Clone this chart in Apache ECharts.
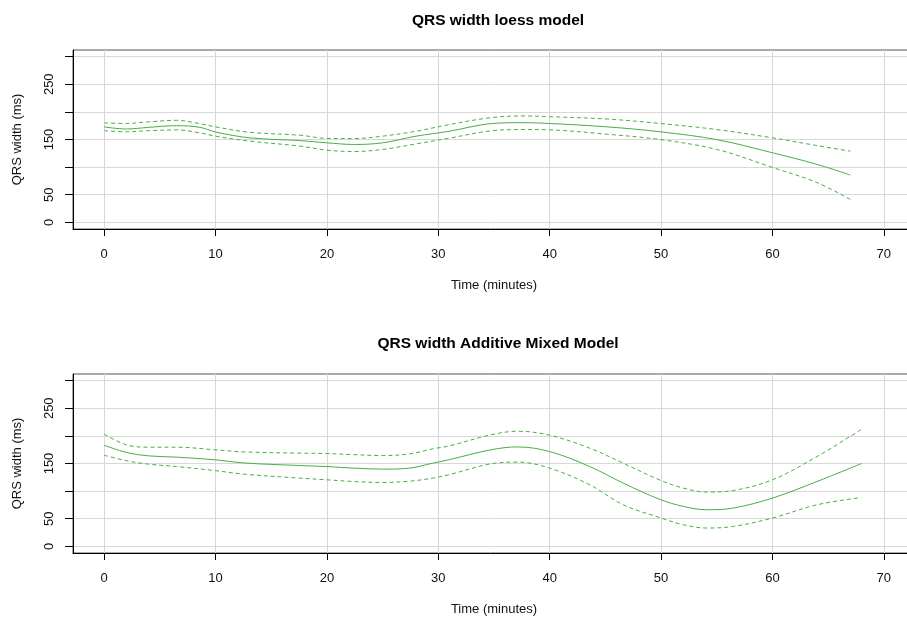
<!DOCTYPE html>
<html>
<head>
<meta charset="utf-8">
<script src="https://cdn.jsdelivr.net/npm/echarts@6/dist/echarts.min.js"></script>
<style>html,body{margin:0;padding:0;background:#fff}#c{width:907px;height:617px}</style>
</head>
<body>
<div id="c"></div>
<script>
// ---- data ----
const titles = ["QRS width loess model", "QRS width Additive Mixed Model"];
const xTicks = [0, 10, 20, 30, 40, 50, 60, 70];
const yTicks = [0, 50, 100, 150, 200, 250, 300];
const yLabels = [0, 50, 150, 250];

const loessTime  = [0, 2, 4, 6.5, 8.6, 10, 13.1, 17.6, 20, 22.4, 25, 28, 31, 34.7, 37.6, 40, 45.2, 49.9, 55, 60, 64, 67];
const loessFit   = [172.8, 169, 172, 175, 172, 163.5, 153, 148, 144, 141, 144, 156, 165, 178.7, 180.5, 179, 172.8, 164, 149.8, 126, 105, 85.7];
const loessUpper = [180, 179, 182, 184.7, 178.7, 172.8, 163, 157.7, 152, 151.7, 156, 165, 177, 189.5, 192.6, 191.3, 187, 179, 168, 153, 139, 128.9];
const loessLower = [166, 164, 166, 167.4, 162, 156, 147, 138, 130.7, 128.3, 132, 142, 152.5, 165.6, 168, 167.4, 159.5, 150, 132, 99.5, 72, 41.4];

const ammTime  = [0, 2, 4, 6.5, 10, 12.5, 17.6, 20, 22.4, 25, 27.4, 29.5, 31, 34.7, 37.1, 40, 43.6, 46.6, 49.9, 52, 54.1, 56.5, 60, 64, 68];
const ammFit   = [183, 170, 163.8, 161.5, 156.6, 151, 146.3, 144.5, 141.6, 139.8, 141.6, 150.6, 157, 174.7, 180, 171.6, 144.5, 114.5, 85, 72.3, 66.3, 69.4, 87.4, 117.4, 150];
const ammUpper = [203, 183.7, 179.5, 179.5, 174.7, 171, 168.7, 168, 166, 164.4, 167.4, 176.5, 182, 201.8, 208.4, 201.2, 177.7, 150.6, 120, 105.5, 98.3, 101.2, 120.5, 162.6, 212];
const ammLower = [165, 155, 148.8, 144.5, 137, 130.8, 123.5, 120.5, 117.4, 115.6, 118, 123.5, 130, 149.4, 152.5, 141.6, 111.5, 75.3, 52, 39.2, 33.2, 36.1, 51.3, 75.3, 88.5];

// ---- chart ----
const GREEN = '#45b045';
const FONT = '"Liberation Sans", Arial, Helvetica, sans-serif';
const zip = (xs, ys) => xs.map((x, i) => [x, ys[i]]);

const gridTops = [50, 374];
const grids = gridTops.map(t => ({
  left: 73, top: t, width: 842, height: 179,
  outerBoundsMode: 'none', containLabel: false,
  show: true, borderColor: '#555', borderWidth: 1, backgroundColor: 'transparent'
}));

const xAxes = [0, 1].map(i => ({
  type: 'value', gridIndex: i, min: -2.8, max: 72.8, position: 'bottom',
  name: 'Time (minutes)', nameLocation: 'middle', nameGap: 50,
  nameTextStyle: {fontFamily: FONT, fontSize: 13, color: '#111'},
  axisLine: {show: true, onZero: false, lineStyle: {color: '#000', width: 1}},
  axisTick: {show: true, length: 7, customValues: xTicks, lineStyle: {color: '#000'}},
  axisLabel: {customValues: xTicks, margin: 19, fontFamily: FONT, fontSize: 13, color: '#111'},
  splitLine: {show: true, lineStyle: {color: '#d8d8d8', width: 1}}
}));

const yAxes = [0, 1].map(i => ({
  type: 'value', gridIndex: i, min: -12, max: 312, position: 'left',
  name: 'QRS width (ms)', nameLocation: 'middle', nameGap: 49,
  nameTextStyle: {fontFamily: FONT, fontSize: 13, color: '#111'},
  axisLine: {show: true, onZero: false, lineStyle: {color: '#000', width: 1}},
  axisTick: {show: true, length: 8, customValues: yTicks, lineStyle: {color: '#000'}},
  axisLabel: {customValues: yLabels, rotate: 90, margin: 17, fontFamily: FONT, fontSize: 13, color: '#111'},
  splitLine: {show: true, lineStyle: {color: '#d8d8d8', width: 1}}
}));

function line(i, xs, ys, dashed) {
  return {
    type: 'line', xAxisIndex: i, yAxisIndex: i, data: zip(xs, ys),
    showSymbol: false, symbol: 'none', smooth: 0.35, silent: true, animation: false,
    lineStyle: {color: GREEN, width: 1, type: dashed ? [4, 3] : 'solid'}
  };
}

const option = {
  animation: false,
  backgroundColor: '#fff',
  title: titles.map((t, i) => ({
    text: t, left: 493, top: i === 0 ? 8 : 331, textAlign: 'center',
    textStyle: {fontFamily: FONT, fontSize: 15.5, fontWeight: 'bold', color: '#000'}
  })),
  grid: grids,
  xAxis: xAxes,
  yAxis: yAxes,
  series: [
    line(0, loessTime, loessFit, false),
    line(0, loessTime, loessUpper, true),
    line(0, loessTime, loessLower, true),
    line(1, ammTime, ammFit, false),
    line(1, ammTime, ammUpper, true),
    line(1, ammTime, ammLower, true)
  ]
};
echarts.init(document.getElementById('c'), null, {renderer: 'canvas'}).setOption(option);
</script>
</body>
</html>
